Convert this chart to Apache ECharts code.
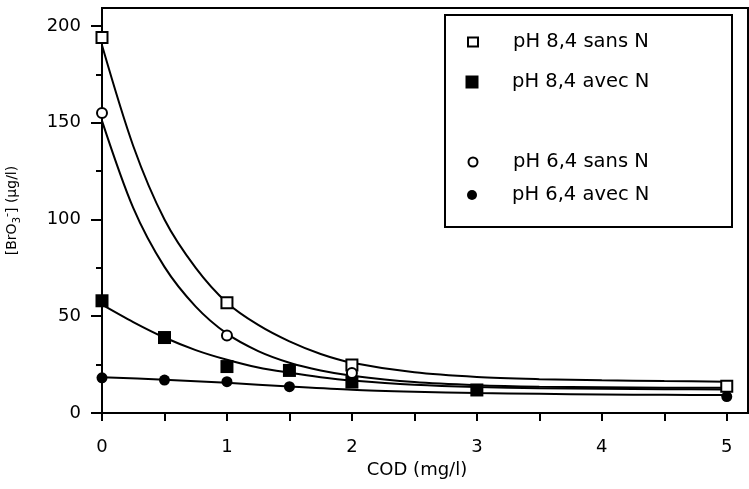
<!DOCTYPE html>
<html><head><meta charset="utf-8">
<script src="https://cdn.jsdelivr.net/npm/echarts@6/dist/echarts.min.js"></script>
<style>html,body{margin:0;padding:0;background:#fff}#c{width:749px;height:489px}</style>
</head><body><div id="c"></div>
<script>
const FONT = 'DejaVu Sans';
// tick / label values
const xTickValues = [0, 0.5, 1, 1.5, 2, 2.5, 3, 3.5, 4, 4.5, 5];
const xLabelValues = [0, 1, 2, 3, 4, 5];
const yLabelValues = [0, 50, 100, 150, 200];
const yMinorTickValues = [25, 75, 125, 175];

const seriesNames = ['pH 8,4 sans N', 'pH 8,4 avec N', 'pH 6,4 sans N', 'pH 6,4 avec N'];

// measured points [COD, BrO3-]
const pts84sans = [[0, 194], [1, 57], [2, 24.8], [5, 13.8]];
const pts84avec = [[0, 58], [0.5, 39], [1, 24], [1.5, 22], [2, 16], [3, 11.9]];
const pts64sans = [[0, 155], [1, 40], [2, 20.7]];
const pts64avec = [[0, 18.2], [0.5, 17], [1, 16.2], [1.5, 13.6], [5, 8.5]];

// fitted curves
const fit84sans = [[0, 190], [0.25, 138], [0.5, 100], [0.75, 75], [1, 57], [1.25, 45.5], [1.5, 37], [1.75, 30.5], [2, 26], [2.5, 21], [3, 18.6], [3.5, 17.5], [4, 16.9], [4.5, 16.5], [5, 16.2]];
const fit84avec = [[0, 56], [0.25, 47], [0.5, 39], [0.75, 32.5], [1, 27.5], [1.25, 23.5], [1.5, 20.8], [1.75, 18.5], [2, 16.8], [2.5, 14.6], [3, 13.4], [3.5, 12.8], [4, 12.5], [4.5, 12.3], [5, 12.2]];
const fit64sans = [[0, 151], [0.25, 106], [0.5, 75.5], [0.75, 55], [1, 41], [1.25, 32], [1.5, 26], [1.75, 22], [2, 19.3], [2.5, 16], [3, 14.4], [3.5, 13.6], [4, 13.3], [4.5, 13.1], [5, 13]];
const fit64avec = [[0, 18.5], [0.5, 17.2], [1, 15.6], [1.5, 13.7], [2, 12], [2.5, 11], [3, 10.3], [3.5, 9.9], [4, 9.6], [4.5, 9.4], [5, 9.3]];

const hollow = { color: '#fff', borderColor: '#000', borderWidth: 2, opacity: 1 };
const filled = { color: '#000', borderColor: '#000', borderWidth: 0, opacity: 1 };

const markerDefs = [
  { name: seriesNames[0], data: pts84sans, symbol: 'rect', size: 11, style: hollow, fit: fit84sans },
  { name: seriesNames[1], data: pts84avec, symbol: 'rect', size: 13, style: filled, fit: fit84avec },
  { name: seriesNames[2], data: pts64sans, symbol: 'circle', size: 10, style: hollow, fit: fit64sans },
  { name: seriesNames[3], data: pts64avec, symbol: 'circle', size: 11, style: filled, fit: fit64avec }
];

const legendRows = [40, 80, 160, 193];
const legendIconSize = [[10, 9], [13, 13], [9, 9], [10, 10]];

const series = [];
markerDefs.forEach((d, i) => {
  series.push({
    name: 'fit' + i, type: 'line', data: d.fit, smooth: 0.3,
    showSymbol: false, symbol: 'none',
    lineStyle: { color: '#000', width: 2 }, z: 2, silent: true
  });
});
markerDefs.forEach((d) => {
  series.push({
    name: d.name, type: 'scatter', data: d.data, symbol: d.symbol, symbolSize: d.size,
    itemStyle: d.style, z: 5
  });
});

const legends = markerDefs.map((d, i) => {
  const w = legendIconSize[i][0], h = legendIconSize[i][1];
  const left = 472 - w / 2;
  return {
    data: [{ name: d.name, icon: d.symbol, itemStyle: d.style }],
    left: left, top: legendRows[i] - 8, padding: 0,
    itemWidth: w, itemHeight: h, selectedMode: false,
    textStyle: { fontFamily: FONT, fontSize: 19.5, color: '#000', padding: [0, 0, 0, 512 - (left + w + 5)] }
  };
});

const chart = echarts.init(document.getElementById('c'), null, { renderer: 'canvas' });
chart.setOption({
  animation: false,
  backgroundColor: '#fff',
  grid: { left: 102, right: 1, top: 8, bottom: 76, show: true, borderColor: '#000', borderWidth: 2, outerBoundsMode: 'none', containLabel: false },
  legend: legends,
  graphic: [{
    type: 'rect', shape: { x: 445, y: 15, width: 287, height: 212 },
    style: { fill: 'none', stroke: '#000', lineWidth: 2 }, z: 10
  }],
  xAxis: {
    type: 'value', min: 0, max: 5.17,
    axisLine: { lineStyle: { color: '#000', width: 2 } },
    axisTick: { customValues: xTickValues, length: 8, lineStyle: { color: '#000', width: 2 } },
    axisLabel: { customValues: xLabelValues, fontFamily: FONT, fontSize: 18, color: '#000', margin: 25 },
    splitLine: { show: false },
    name: 'COD (mg/l)', nameLocation: 'middle', nameGap: 47,
    nameTextStyle: { fontFamily: FONT, fontSize: 18, color: '#000', padding: [0, 16, 0, 0] }
  },
  yAxis: [{
    type: 'value', min: 0, max: 209.3, position: 'left',
    axisLine: { lineStyle: { color: '#000', width: 2 } },
    axisTick: { customValues: yLabelValues, length: 11, lineStyle: { color: '#000', width: 2 } },
    axisLabel: { customValues: yLabelValues, fontFamily: FONT, fontSize: 18, color: '#000', margin: 21 },
    splitLine: { show: false },
    name: '[BrO{sub|3}{sup|-}] (µg/l)', nameLocation: 'middle', nameGap: 80,
    nameTextStyle: {
      fontFamily: FONT, fontSize: 14, color: '#000', lineHeight: 20,
      rich: {
        sub: { fontFamily: FONT, fontSize: 10, color: '#000', verticalAlign: 'bottom', lineHeight: 10 },
        sup: { fontFamily: FONT, fontSize: 11, color: '#000', verticalAlign: 'top', lineHeight: 14 }
      }
    }
  }, {
    type: 'value', min: 0, max: 209.3, position: 'left',
    axisLine: { show: false },
    axisTick: { customValues: yMinorTickValues, length: 6, lineStyle: { color: '#000', width: 2 } },
    axisLabel: { show: false },
    splitLine: { show: false }
  }],
  series: series
});
</script></body></html>
